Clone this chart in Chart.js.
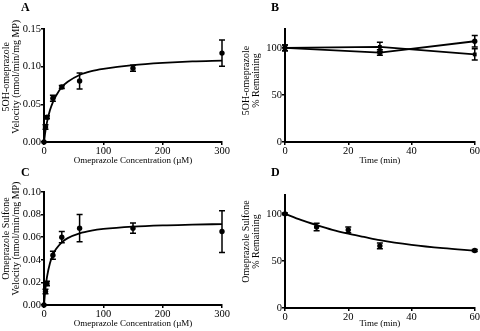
<!DOCTYPE html>
<html>
<head>
<meta charset="utf-8">
<script src="https://cdn.jsdelivr.net/npm/chart.js@4.4.1/dist/chart.umd.min.js"></script>
<style>
  html, body { margin: 0; padding: 0; background: #fff; }
  #wrap { position: relative; width: 480px; height: 331px; overflow: hidden; }
  .pan { position: absolute; }
  .lbl { position: absolute; font: bold 12px "Liberation Serif", serif; color: #000; }
</style>
</head>
<body>
<div id="wrap">
  <div class="pan" style="left:0;top:0;width:240px;height:165px"><canvas id="cA" width="240" height="165"></canvas></div>
  <div class="pan" style="left:240px;top:0;width:240px;height:165px"><canvas id="cB" width="240" height="165"></canvas></div>
  <div class="pan" style="left:0;top:165px;width:240px;height:166px"><canvas id="cC" width="240" height="166"></canvas></div>
  <div class="pan" style="left:240px;top:165px;width:240px;height:166px"><canvas id="cD" width="240" height="166"></canvas></div>
  <div class="lbl" style="left:21px;top:0px">A</div>
  <div class="lbl" style="left:271px;top:0px">B</div>
  <div class="lbl" style="left:21px;top:165px">C</div>
  <div class="lbl" style="left:271px;top:165px">D</div>
</div>
<script>
// ---- Panel A: 5OH-omeprazole velocity ----
const concA = [0, 2.5, 5, 15, 30, 60, 150, 300];
const velA  = [0, 0.020, 0.033, 0.058, 0.073, 0.081, 0.098, 0.118];
const errA  = [0, 0.003, 0.002, 0.004, 0.002, 0.0105, 0.004, 0.0175];
const fitXA = [0, 2.5, 5, 10, 15, 20, 30, 40, 60, 80, 100, 150, 200, 250, 300];
const fitYA = [0, 0.015, 0.026, 0.042, 0.053, 0.061, 0.073, 0.080, 0.089, 0.094, 0.097, 0.102, 0.105, 0.107, 0.108];
const xTicksA = [0, 100, 200, 300];
const yTicksA = [0, 0.05, 0.10, 0.15];

// ---- Panel B: 5OH-omeprazole % remaining ----
const timeB  = [0, 30, 60];
const remB1  = [100, 95, 107];
const errB1  = [3, 3, 6];
const remB2  = [100, 101, 93];
const errB2  = [3, 5, 6];
const xTicksB = [0, 20, 40, 60];
const yTicksB = [0, 50, 100];

// ---- Panel C: Omeprazole sulfone velocity ----
const concC = [0, 2.5, 5, 15, 30, 60, 150, 300];
const velC  = [0, 0.012, 0.019, 0.044, 0.060, 0.068, 0.068, 0.065];
const errC  = [0, 0.002, 0.002, 0.0035, 0.005, 0.012, 0.0045, 0.0185];
const fitXC = [0, 2.5, 5, 10, 15, 20, 30, 40, 60, 80, 100, 150, 200, 250, 300];
const fitYC = [0, 0.0148, 0.0247, 0.037, 0.0444, 0.0493, 0.0555, 0.0592, 0.0634, 0.0658, 0.0673, 0.0694, 0.0705, 0.0711, 0.0716];
const xTicksC = [0, 100, 200, 300];
const yTicksC = [0, 0.02, 0.04, 0.06, 0.08, 0.10];

// ---- Panel D: Omeprazole sulfone % remaining ----
const timeD = [0, 10, 20, 30, 60];
const remD  = [100, 86, 83, 66, 61];
const errD  = [1, 4, 3, 3, 1];
const fitTD = [0, 5, 10, 15, 20, 25, 30, 40, 50, 60];
const fitRD = [100, 93.5, 88, 83, 79, 75.5, 72, 67, 63.5, 61];
const xTicksD = [0, 20, 40, 60];
const yTicksD = [0, 50, 100];

const FONT = '"Liberation Serif", "Times New Roman", serif';
const pts = (xs, ys) => xs.map((x, i) => ({x: x, y: ys[i]}));
// leading spaces nudge the rotated y-axis titles upward, as in the reference
const lead = n => ' '.repeat(n);

const errorBars = {
  id: 'errorBars',
  afterDatasetsDraw(chart) {
    const ctx = chart.ctx;
    const xs = chart.scales.x, ys = chart.scales.y;
    chart.data.datasets.forEach(ds => {
      if (!ds.errors) return;
      ds.data.forEach((p, j) => {
        const e = ds.errors[j];
        if (!e) return;
        const x = xs.getPixelForValue(p.x);
        const y1 = ys.getPixelForValue(p.y + e);
        const y2 = ys.getPixelForValue(p.y - e);
        ctx.save();
        ctx.strokeStyle = '#000';
        ctx.lineWidth = 1.5;
        ctx.beginPath();
        ctx.moveTo(x, y1); ctx.lineTo(x, y2);
        ctx.moveTo(x - 3, y1); ctx.lineTo(x + 3, y1);
        ctx.moveTo(x - 3, y2); ctx.lineTo(x + 3, y2);
        ctx.stroke();
        ctx.restore();
      });
    });
  }
};

function axis(opts) {
  return {
    type: 'linear',
    min: opts.min, max: opts.max,
    afterBuildTicks: s => { s.ticks = opts.ticks.map(v => ({value: v})); },
    afterFit: s => {
      if (opts.width !== undefined) s.width = opts.width;
      if (opts.height !== undefined) s.height = opts.height;
    },
    border: {display: true, color: '#000', width: 2},
    grid: {display: true, drawOnChartArea: false, drawTicks: true, tickLength: 3, color: '#000', lineWidth: 1.5},
    ticks: {
      color: '#000', padding: opts.tickPad,
      font: {family: FONT, size: 10.5},
      maxRotation: 0, autoSkip: false,
      callback: opts.fmt
    },
    title: {
      display: true, text: opts.title, color: '#000',
      font: {family: FONT, size: opts.tsize, lineHeight: 1.0},
      padding: opts.tpad
    }
  };
}

function make(id, datasets, xo, yo, pad) {
  new Chart(document.getElementById(id), {
    type: 'scatter',
    data: {datasets: datasets},
    options: {
      responsive: false, animation: false,
      layout: {padding: pad},
      plugins: {legend: {display: false}, tooltip: {enabled: false}},
      scales: {x: axis(xo), y: axis(yo)}
    },
    plugins: [errorBars]
  });
}

function fitDs(xs, ys) {
  return {data: pts(xs, ys), showLine: true, borderColor: '#000', borderWidth: 1.8,
          pointRadius: 0, cubicInterpolationMode: 'monotone', clip: false, order: 2};
}
function ptDs(xs, ys, errs, style) {
  return {data: pts(xs, ys), errors: errs, pointStyle: style || 'circle', pointRadius: 2.7,
          backgroundColor: '#000', borderColor: '#000', borderWidth: 0, clip: false, order: 1};
}
function lineDs(xs, ys, errs, style) {
  return {data: pts(xs, ys), errors: errs, showLine: true, borderWidth: 1.8, tension: 0,
          pointStyle: style, pointRadius: 2.7, pointBorderWidth: 0,
          backgroundColor: '#000', borderColor: '#000', clip: false};
}

const f2 = v => v.toFixed(2);
const f0 = v => String(v);

make('cA', [ptDs(concA, velA, errA), fitDs(fitXA, fitYA)],
  {min: 0, max: 300, ticks: xTicksA, fmt: f0, height: 23, tickPad: 0, tsize: 9, title: 'Omeprazole Concentration (µM)', tpad: {top: 0, bottom: 0}},
  {min: 0, max: 0.15, ticks: yTicksA, fmt: f2, width: 44, tickPad: 0, tsize: 10, title: [lead(7) + '5OH-omeprazole', lead(7) + 'Velocity (nmol/min/mg MP)'], tpad: {top: 1, bottom: 0}},
  {top: 29, right: 18, left: 0, bottom: 0});

make('cB', [lineDs(timeB, remB1, errB1, 'circle'), lineDs(timeB, remB2, errB2, 'rect')],
  {min: 0, max: 60, ticks: xTicksB, fmt: f0, height: 23, tickPad: 0, tsize: 9, title: 'Time (min)', tpad: {top: 0, bottom: 0}},
  {min: 0, max: 120, ticks: yTicksB, fmt: f0, width: 45, tickPad: 0, tsize: 10, title: [lead(4) + '5OH-omeprazole', lead(4) + '% Remaining'], tpad: {top: 1, bottom: 0}},
  {top: 29, right: 5, left: 0, bottom: 0});

make('cC', [ptDs(concC, velC, errC), fitDs(fitXC, fitYC)],
  {min: 0, max: 300, ticks: xTicksC, fmt: f0, height: 26, tickPad: 0, tsize: 9, title: 'Omeprazole Concentration (µM)', tpad: {top: 0, bottom: 2.5}},
  {min: 0, max: 0.10, ticks: yTicksC, fmt: f2, width: 44, tickPad: 0, tsize: 10, title: [lead(8) + 'Omeprazole Sulfone', lead(8) + 'Velocity (nmol/min/mg MP)'], tpad: {top: 1, bottom: 0}},
  {top: 27, right: 18, left: 0, bottom: 0});

make('cD', [ptDs(timeD, remD, errD), fitDs(fitTD, fitRD)],
  {min: 0, max: 60, ticks: xTicksD, fmt: f0, height: 23, tickPad: 0, tsize: 9, title: 'Time (min)', tpad: {top: 0, bottom: 3}},
  {min: 0, max: 120, ticks: yTicksD, fmt: f0, width: 45, tickPad: 0, tsize: 10, title: [lead(8) + 'Omeprazole Sulfone', lead(8) + '% Remaining'], tpad: {top: 1, bottom: 0}},
  {top: 30, right: 5, left: 0, bottom: 0});
</script>
</body>
</html>
